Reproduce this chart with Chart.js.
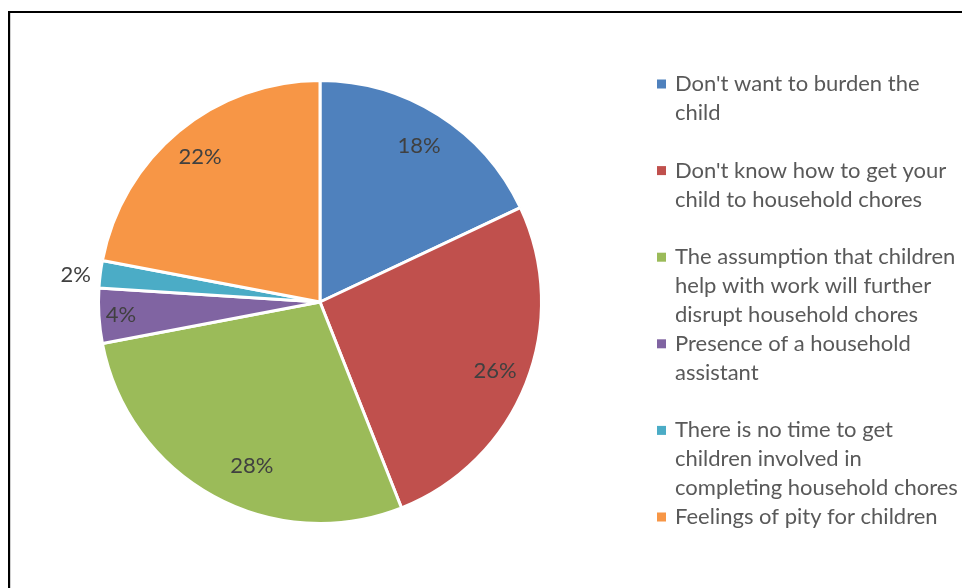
<!DOCTYPE html>
<html>
<head>
  <title>Reasons for not involving children in household chores</title>
  <script src="https://cdn.jsdelivr.net/npm/chart.js"></script>
  <style>
    body { margin: 0; background: #fff; }
    #frame {
      position: absolute; left: 8px; top: 11px; width: 980px; height: 600px;
      border-left: 2px solid #000; border-top: 2px solid #000;
      box-shadow: inset 1px 0 0 #d0d0d0;
    }
    #wrap { position: absolute; left: 0; top: 0; width: 962px; height: 588px; }
  </style>
</head>
<body>
  <div id="frame"></div>
  <div id="wrap"><canvas id="pieChart"></canvas></div>
  <script>
    // категории (по строкам, как в легенде)
    var categories = [
      ["Don't want to burden the", "child"],
      ["Don't know how to get your", "child to household chores"],
      ["The assumption that children", "help with work will further", "disrupt household chores"],
      ["Presence of a household", "assistant"],
      ["There is no time to get", "children involved in", "completing household chores"],
      ["Feelings of pity for children"]
    ];
    var shares = [18, 26, 28, 4, 2, 22];
    var colors = ['#4F81BD', '#C0504D', '#9BBB59', '#8064A2', '#4BACC6', '#F79646'];

    // положение подписей: доля радиуса и сдвиг угла (градусы)
    var labelRadius = [0.835, 0.85, 0.80, 0.90, 1.11, 0.85];
    var labelShift = [0, 0, -6.2, 0, -0.8, 0];

    var font = 'Lato, "Open Sans", sans-serif';

    var labelsPlugin = {
      id: 'pctLabels',
      afterDatasetsDraw: function(chart) {
        var ctx = chart.ctx;
        var meta = chart.getDatasetMeta(0);
        ctx.save();
        ctx.font = '22px ' + font;
        ctx.fillStyle = '#404040';
        ctx.textAlign = 'center';
        ctx.textBaseline = 'middle';
        meta.data.forEach(function(arc, i) {
          var p = arc.getProps(['x', 'y', 'startAngle', 'endAngle', 'outerRadius'], true);
          var mid = (p.startAngle + p.endAngle) / 2 + labelShift[i] * Math.PI / 180;
          var r = p.outerRadius * labelRadius[i];
          ctx.fillText(shares[i] + '%', p.x + Math.cos(mid) * r, p.y + Math.sin(mid) * r);
        });
        ctx.restore();
      }
    };

    var legendPlugin = {
      id: 'sideLegend',
      afterDraw: function(chart) {
        var ctx = chart.ctx;
        ctx.save();
        ctx.font = '22px ' + font;
        ctx.textBaseline = 'middle';
        categories.forEach(function(lines, i) {
          var y0 = 84 + i * 86.6;
          ctx.fillStyle = colors[i];
          ctx.fillRect(657, y0 - 4.5, 9, 9);
          ctx.fillStyle = '#595959';
          lines.forEach(function(t, j) {
            ctx.fillText(t, 675, y0 + j * 29);
          });
        });
        ctx.restore();
      }
    };

    var ctx = document.getElementById('pieChart').getContext('2d');
    var chart = new Chart(ctx, {
      type: 'pie',
      data: {
        labels: categories,
        datasets: [{
          data: shares,
          backgroundColor: colors,
          borderColor: '#ffffff',
          borderWidth: 3
        }]
      },
      options: {
        responsive: true,
        maintainAspectRatio: false,
        animation: false,
        layout: { padding: { left: 97, top: 79, right: 419, bottom: 63 } },
        plugins: {
          legend: { display: false },
          tooltip: { enabled: false }
        }
      },
      plugins: [labelsPlugin, legendPlugin]
    });
  </script>
</body>
</html>
